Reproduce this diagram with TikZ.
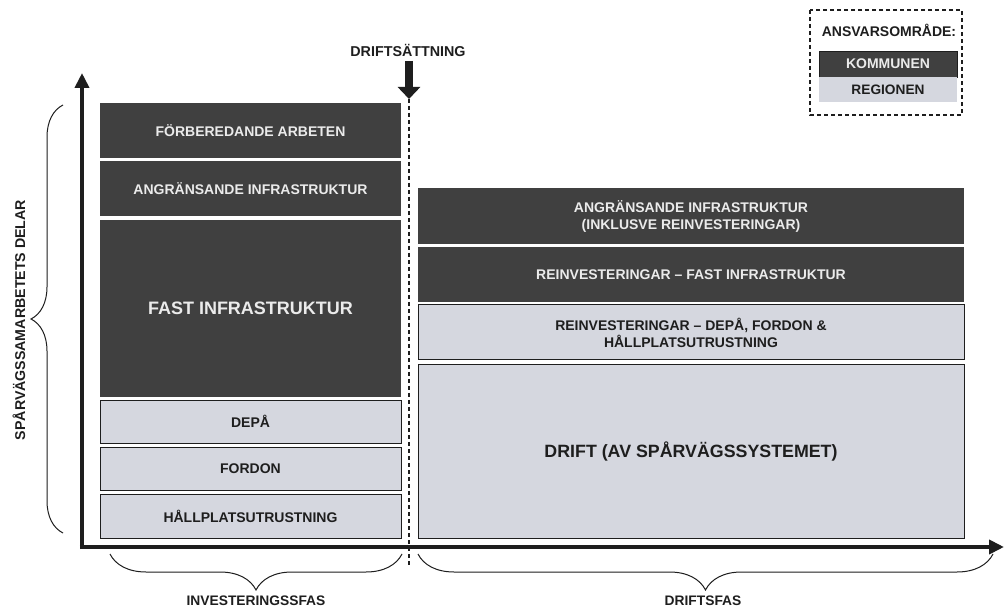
\documentclass[tikz,border=0pt]{standalone}
\usepackage{fontspec}
\setmainfont{Liberation Sans}
\usetikzlibrary{arrows.meta,decorations.pathreplacing}
\definecolor{darkbox}{HTML}{404040}
\definecolor{lightbox}{HTML}{D5D7DF}
\definecolor{ink}{HTML}{1E1E1E}
\tikzset{
  kbox/.style={fill=darkbox, draw=white, line width=1.2pt, inner sep=0pt, text=white!92!black,
    font=\bfseries\fontsize{14}{17}\selectfont, align=center},
  rbox/.style={fill=lightbox, draw=ink, line width=1pt, inner sep=0pt, text=ink,
    font=\bfseries\fontsize{14}{17}\selectfont, align=center},
  lbl/.style={text=ink, font=\bfseries\fontsize{14}{16}\selectfont, inner sep=0pt},
  axis/.style={line width=4.5pt, draw=ink, -{Triangle[width=14pt,length=15pt]}},
  brc/.style={draw=ink, line width=1pt, decorate, decoration={brace, amplitude=#1}},
}
\begin{document}
\begin{tikzpicture}[x=1pt,y=-1pt]
\useasboundingbox (0,0) rectangle (1004,609);
\fill[white] (0,0) rectangle (1004,609);

% legend
\draw[ink, line width=1.2pt, dash pattern=on 4pt off 3pt] (810,10) rectangle (962,115);
\node[lbl, font=\bfseries\fontsize{14}{16}\selectfont] (legtitle) at (889,30) {ANSVARSOMRÅDE:};
\node[kbox, draw=ink, line width=0.8pt, minimum width=138pt, minimum height=26pt, font=\bfseries\fontsize{14}{16}\selectfont] (legk) at (888,64) {KOMMUNEN};
\node[rbox, draw=none, minimum width=138pt, minimum height=25pt, font=\bfseries\fontsize{13.7}{16}\selectfont] (legr) at (888,90) {REGIONEN};

% left column (investeringsfas)
\node[kbox, minimum width=303pt, minimum height=57pt] (forb) at (250.5,130.5) {FÖRBEREDANDE ARBETEN};
\node[kbox, minimum width=303pt, minimum height=57pt] (angr) at (250.5,188.5) {ANGRÄNSANDE INFRASTRUKTUR};
\node[kbox, minimum width=303pt, minimum height=179pt, font=\bfseries\fontsize{18}{21}\selectfont] (fast) at (250.5,308.5) {FAST INFRASTRUKTUR};
\node[rbox, minimum width=301pt, minimum height=42.5pt] (depa) at (250.5,421.75) {DEPÅ};
\node[rbox, minimum width=301pt, minimum height=43.5pt] (ford) at (250.5,468.75) {FORDON};
\node[rbox, minimum width=301pt, minimum height=44pt] (hall) at (250.5,516) {HÅLLPLATSUTRUSTNING};

% right column (driftsfas)
\node[kbox, minimum width=548pt, minimum height=57pt] (angr2) at (691,216) {ANGRÄNSANDE INFRASTRUKTUR\\(INKLUSVE REINVESTERINGAR)};
\node[kbox, minimum width=548pt, minimum height=57pt] (reinf) at (691,274.5) {REINVESTERINGAR -- FAST INFRASTRUKTUR};
\node[rbox, minimum width=546pt, minimum height=55pt] (reind) at (691,332.5) {REINVESTERINGAR -- DEPÅ, FORDON \&\\HÅLLPLATSUTRUSTNING};
\node[rbox, minimum width=546pt, minimum height=173pt, font=\bfseries\fontsize{17.8}{21}\selectfont] (drift) at (691,451.5) {DRIFT (AV SPÅRVÄGSSYSTEMET)};

% axes
\coordinate (origin) at (82,547);
\coordinate (ytop) at (82,73);
\coordinate (xend) at (1004,547);
\draw[axis] (82,549.2) -- (ytop);
\draw[axis] (79.8,547) -- (xend);

% driftsättning
\node[lbl, font=\bfseries\fontsize{14.3}{16}\selectfont] (dsat) at (408,50) {DRIFTSÄTTNING};
\coordinate (arrtop) at (409,61);
\coordinate (arrtip) at (409,99);
\coordinate (dashbot) at (409,565);
\draw[ink, line width=8pt, -{Triangle[width=22pt,length=12pt]}] (arrtop) -- (arrtip);
\draw[ink, line width=1.2pt, dash pattern=on 4pt off 3pt] (arrtip) -- (dashbot);

% braces
\coordinate (lb1) at (63,533);
\coordinate (lb2) at (63,105);
\draw[brc=32pt] (lb1) -- (lb2);
\node[lbl, rotate=90, font=\bfseries\fontsize{14.2}{16}\selectfont] (delar) at (19,320) {SPÅRVÄGSSAMARBETETS DELAR};

\coordinate (ib1) at (402,554);
\coordinate (ib2) at (110,554);
\draw[brc=36pt] (ib1) -- (ib2);
\node[lbl, font=\bfseries\fontsize{13.8}{16}\selectfont] (inv) at (256,601) {INVESTERINGSSFAS};

\coordinate (db1) at (993,554);
\coordinate (db2) at (418,554);
\draw[brc=36pt] (db1) -- (db2);
\node[lbl, font=\bfseries\fontsize{13.8}{16}\selectfont] (dfas) at (703,601) {DRIFTSFAS};
\end{tikzpicture}
\end{document}
